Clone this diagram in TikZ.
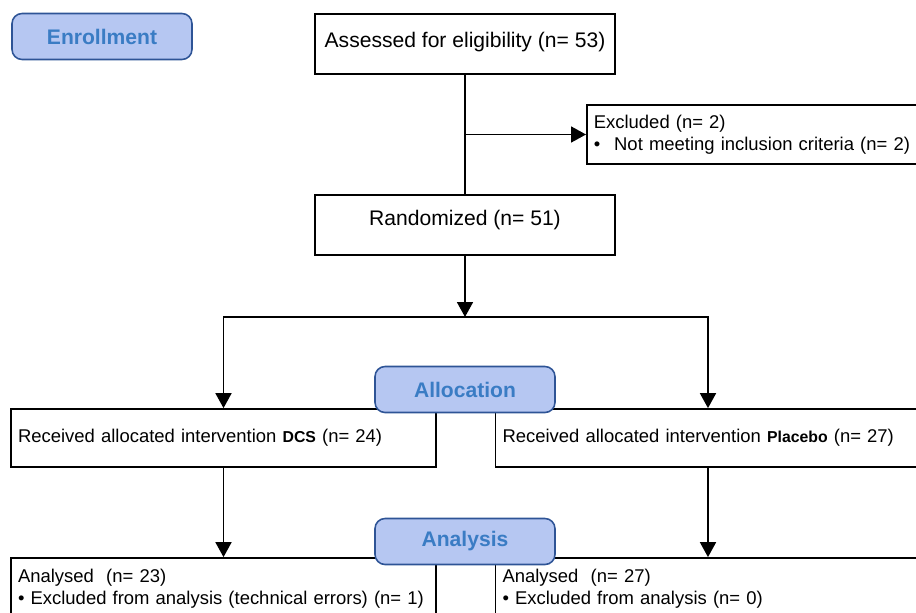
\documentclass[tikz,border=0pt]{standalone}
\usepackage{fontspec}
\setmainfont{Liberation Sans}
\usetikzlibrary{arrows.meta}
\definecolor{stagefill}{RGB}{182,199,242}
\definecolor{stageline}{RGB}{46,84,150}
\definecolor{stagetext}{RGB}{58,124,196}

\begin{document}
\begin{tikzpicture}[x=0.02cm, y=-0.02cm,
    box/.style={draw, line width=1pt, inner sep=0pt, minimum width=6cm,
                font=\fontsize{12}{14}\selectfont},
    infobox/.style={draw, line width=1pt, inner xsep=0.14cm, inner ysep=0pt,
                text width=#1, align=left, font=\fontsize{10.5}{12.3}\selectfont},
    stage/.style={draw=stageline, fill=stagefill, line width=0.9pt,
                rounded corners=0.2cm, minimum width=3.6cm, minimum height=0.92cm,
                text=stagetext, font=\fontsize{12}{14}\selectfont\bfseries},
    arr/.style={-{Triangle[width=0.32cm, length=0.3cm]}, line width=1pt}
  ]
  \path[use as bounding box, clip] (0,0) rectangle (916,612);

  % Enrollment
  \node[stage] (enrol) at (102,36.5) {Enrollment};
  \node[box, text height=0.66cm, text depth=0.54cm] (assess) at (465,44)
    {Assessed for eligibility (n= 53)};
  \node[infobox=7cm, minimum height=1.18cm, anchor=west] (excl) at (586,134.5)
    {Excluded (n= 2)\\\textbullet\hspace{0.75em}Not meeting inclusion criteria (n= 2)};
  \node[box, text height=0.61cm, text depth=0.59cm] (rand) at (465,225)
    {Randomized (n= 51)};

  % Allocation
  \coordinate (split) at (465,317);
  \node[infobox=8.22cm, minimum height=1.16cm] (dcs) at (223.5,438)
    {Received allocated intervention {\fontsize{9}{10}\selectfont\bfseries DCS} (n= 24)};
  \node[infobox=8.22cm, minimum height=1.16cm] (plac) at (708,438)
    {Received allocated intervention {\fontsize{9}{10}\selectfont\bfseries Placebo} (n= 27)};
  \node[stage] (alloc) at (465,389.5) {Allocation};

  % Analysis
  \node[infobox=8.22cm, minimum height=1.24cm] (andcs) at (223.5,589)
    {Analysed\ \ (n= 23)\\\textbullet\ Excluded from analysis (technical errors) (n= 1)};
  \node[infobox=8.22cm, minimum height=1.24cm] (anplac) at (708,589)
    {Analysed\ \ (n= 27)\\\textbullet\ Excluded from analysis (n= 0)};
  \node[stage] (analys) at (465,541.5) {Analysis};

  \draw[line width=1pt] (assess) -- (rand);
  \draw[arr] (assess.south |- excl.west) -- (excl.west);
  \draw[arr] (rand) -- (split);
  \draw[arr] (split) -| (dcs);
  \draw[arr] (split) -| (plac);
  \draw[arr] (dcs) -- (andcs);
  \draw[arr] (plac) -- (anplac);
\end{tikzpicture}
\end{document}
